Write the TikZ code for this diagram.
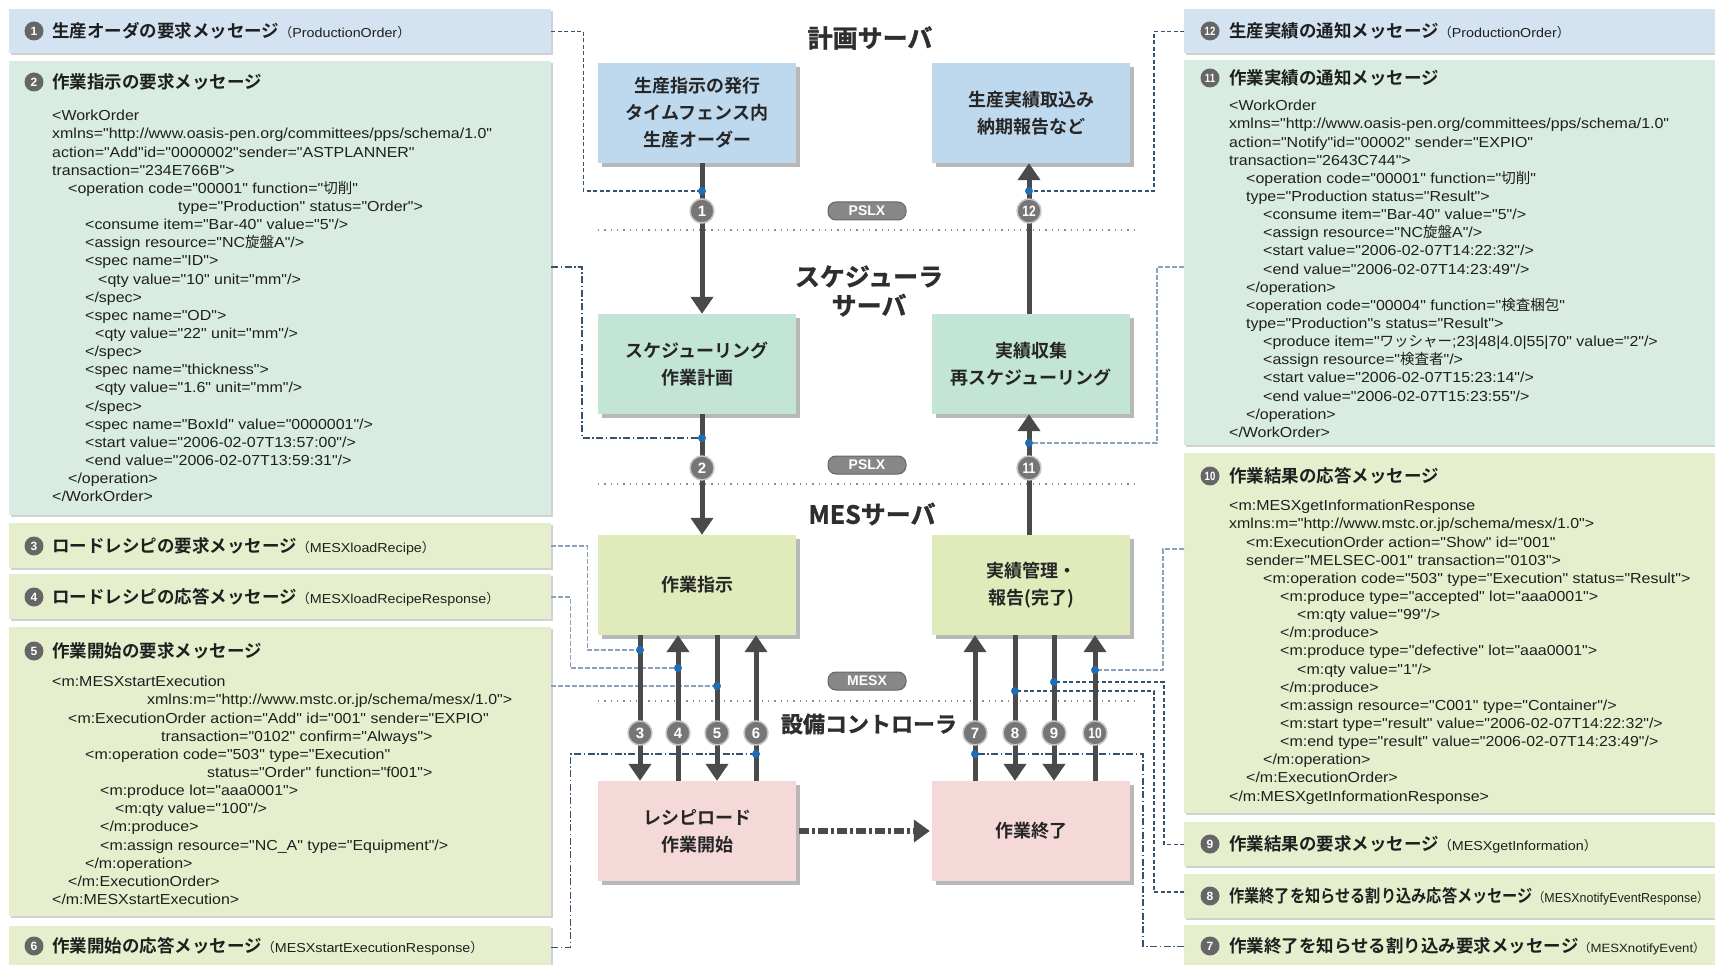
\documentclass[tikz,border=0pt]{standalone}
\usepackage{fontspec}
\usepackage{graphicx}
\setmainfont{Noto Sans CJK JP}[BoldFont={Noto Sans CJK JP Bold}]
\newfontfamily\xmlfam{Liberation Sans}[FakeStretch=1.1]
\newfontfamily\numfam{Liberation Sans}
\newfontfamily\jpfam{Noto Sans CJK JP}
\newfontfamily\heavyfam{Noto Sans CJK JP Bold}[FakeBold=1.3]
\usetikzlibrary{arrows.meta,shadows}

\definecolor{pblue}{HTML}{D3E3F1}
\definecolor{bblue}{HTML}{BED8EE}
\definecolor{pmint}{HTML}{D8ECE2}
\definecolor{bmint}{HTML}{C3E5D6}
\definecolor{pyel}{HTML}{E5EFCD}
\definecolor{byel}{HTML}{DFEBBB}
\definecolor{bpink}{HTML}{F5D9D9}
\definecolor{arrowgray}{HTML}{4A4A4A}
\definecolor{badgegray}{HTML}{767676}
\definecolor{dotblue}{HTML}{1E6DB5}
\definecolor{leaddark}{HTML}{33536F}
\definecolor{leadlight}{HTML}{8CA2BA}

% message name in parentheses after a heading
\newcommand\msgparen[1]{{\mdseries\fontsize{13}{15}\selectfont （{\xmlfam #1}）}}

\tikzset{
  panel/.style={anchor=north west, inner sep=0pt, draw=none,
    drop shadow={shadow xshift=1.5pt, shadow yshift=-1.5pt, fill=black!18, opacity=1}},
  cbox/.style={minimum width=198pt, minimum height=100pt, inner sep=0pt, align=center,
    font=\bfseries\fontsize{18}{27}\selectfont, text=black!85,
    drop shadow={shadow xshift=4pt, shadow yshift=-4pt, fill=black!28, opacity=1}},
  title/.style={inner sep=0pt, align=center, text=black!82,
    font=\heavyfam\fontsize{25}{29}\selectfont},
  head/.style={anchor=west, inner sep=0pt, text=black!88,
    font=\bfseries\fontsize{17.5}{20}\selectfont},
  xml/.style={anchor=north west, inner sep=0pt, align=left, text=black!88,
    font=\xmlfam\fontsize{14.5}{18.15}\selectfont},
  pbadge/.style={circle, fill=black!60, minimum size=19pt, inner sep=0pt, text=white,
    font=\numfam\bfseries\fontsize{12}{12}\selectfont},
  abadge/.style={circle, fill=badgegray, draw=black!22, line width=1.5pt,
    minimum size=24pt, inner sep=0pt, text=white,
    font=\numfam\bfseries\fontsize{15}{15}\selectfont},
  pill/.style={rounded corners=8pt, fill=black!47, draw=black!60, line width=1pt,
    minimum width=78pt, minimum height=18pt, inner sep=0pt, text=white,
    font=\numfam\bfseries\fontsize{14}{14}\selectfont},
  dot/.style={circle, fill=dotblue, minimum size=8pt, inner sep=0pt},
  flow/.style={draw=arrowgray, line width=5pt, -{Triangle[width=22pt,length=17pt]}},
  dasharrow/.style={draw=arrowgray, line width=6pt,
    dash pattern=on 10pt off 3pt on 3pt off 3pt,
    -{Triangle[width=22pt,length=16pt]}, shorten >=2pt, shorten <=3pt},
  leadA/.style={draw=leaddark, line width=1.1pt, dash pattern=on 4pt off 2.5pt},
  leadB/.style={draw=leaddark, line width=1.1pt, dash pattern=on 7pt off 2.5pt on 1.5pt off 2.5pt},
  leadC/.style={draw=leadlight, line width=1.6pt, dash pattern=on 5pt off 2pt},
  sep/.style={draw=black!45, line width=1.3pt, dash pattern=on 1.3pt off 5pt},
}

\begin{document}
\begin{tikzpicture}[x=1pt, y=-1pt]
\fill[white] (0,0) rectangle (1715,965);
\useasboundingbox (0,0) rectangle (1715,965);

% ---------- message panels, left ----------
\node[panel, fill=pblue, minimum width=542pt, minimum height=44pt]  (p1) at (9,9) {};
\node[panel, fill=pmint, minimum width=542pt, minimum height=454pt] (p2) at (9,61) {};
\node[panel, fill=pyel,  minimum width=542pt, minimum height=45pt]  (p3) at (9,523) {};
\node[panel, fill=pyel,  minimum width=542pt, minimum height=45pt]  (p4) at (9,574) {};
\node[panel, fill=pyel,  minimum width=542pt, minimum height=289pt] (p5) at (9,627) {};
\node[panel, fill=pyel,  minimum width=542pt, minimum height=42pt]  (p6) at (9,926) {};

% ---------- message panels, right ----------
\node[panel, fill=pblue, minimum width=536pt, minimum height=44pt]  (p12) at (1184,9) {};
\node[panel, fill=pmint, minimum width=536pt, minimum height=385pt] (p11) at (1184,60) {};
\node[panel, fill=pyel,  minimum width=536pt, minimum height=360pt] (p10) at (1184,453) {};
\node[panel, fill=pyel,  minimum width=536pt, minimum height=44pt]  (p9)  at (1184,822) {};
\node[panel, fill=pyel,  minimum width=536pt, minimum height=44pt]  (p8)  at (1184,874) {};
\node[panel, fill=pyel,  minimum width=536pt, minimum height=42pt]  (p7)  at (1184,925) {};

% ---------- panel headings ----------
\node[pbadge] (q1) at (34,31) {1};
\node[head] (h1) at (52,31) {生産オーダの要求メッセージ\msgparen{ProductionOrder}};
\node[pbadge] (q2) at (34,82) {2};
\node[head] (h2) at (52,82) {作業指示の要求メッセージ};
\node[pbadge] (q3) at (34,546) {3};
\node[head] (h3) at (52,546) {ロードレシピの要求メッセージ\msgparen{MESXloadRecipe}};
\node[pbadge] (q4) at (34,597) {4};
\node[head] (h4) at (52,597) {ロードレシピの応答メッセージ\msgparen{MESXloadRecipeResponse}};
\node[pbadge] (q5) at (34,651) {5};
\node[head] (h5) at (52,651) {作業開始の要求メッセージ};
\node[pbadge] (q6) at (34,946) {6};
\node[head] (h6) at (52,946) {作業開始の応答メッセージ\msgparen{MESXstartExecutionResponse}};

\node[pbadge] (q12) at (1210,31) {\scalebox{0.8}[1]{12}};
\node[head] (h12) at (1229,31) {生産実績の通知メッセージ\msgparen{ProductionOrder}};
\node[pbadge] (q11) at (1210,78) {\scalebox{0.8}[1]{11}};
\node[head] (h11) at (1229,78) {作業実績の通知メッセージ};
\node[pbadge] (q10) at (1210,476) {\scalebox{0.8}[1]{10}};
\node[head] (h10) at (1229,476) {作業結果の応答メッセージ};
\node[pbadge] (q9) at (1210,844) {9};
\node[head] (h9) at (1229,844) {作業結果の要求メッセージ\msgparen{MESXgetInformation}};
\node[pbadge] (q8) at (1210,896) {8};
\node[head] (h8) at (1229,896) {\scalebox{0.87}[1]{作業終了を知らせる割り込み応答メッセージ\msgparen{MESXnotifyEventResponse}}};
\node[pbadge] (q7) at (1210,946) {7};
\node[head] (h7) at (1229,946) {作業終了を知らせる割り込み要求メッセージ{\fontsize{12}{14}\selectfont\mdseries （{\xmlfam MESXnotifyEvent}）}};

% ---------- XML bodies ----------
\node[xml] (x2) at (52,110) {%
<WorkOrder\\
xmlns="http://www.oasis-pen.org/committees/pps/schema/1.0"\\
action="Add"id="0000002"sender="ASTPLANNER"\\
transaction="234E766B">\\
\hspace*{16pt}<operation code="00001" function="{\jpfam 切削}"\\
\hspace*{126pt}type="Production" status="Order">\\
\hspace*{33pt}<consume item="Bar-40" value="5"/>\\
\hspace*{33pt}<assign resource="NC{\jpfam 旋盤}A"/>\\
\hspace*{33pt}<spec name="ID">\\
\hspace*{46pt}<qty value="10" unit="mm"/>\\
\hspace*{33pt}</spec>\\
\hspace*{33pt}<spec name="OD">\\
\hspace*{43pt}<qty value="22" unit="mm"/>\\
\hspace*{33pt}</spec>\\
\hspace*{33pt}<spec name="thickness">\\
\hspace*{43pt}<qty value="1.6" unit="mm"/>\\
\hspace*{33pt}</spec>\\
\hspace*{33pt}<spec name="BoxId" value="0000001"/>\\
\hspace*{33pt}<start value="2006-02-07T13:57:00"/>\\
\hspace*{33pt}<end value="2006-02-07T13:59:31"/>\\
\hspace*{16pt}</operation>\\
</WorkOrder>};

\node[xml] (x5) at (52,676) {%
<m:MESXstartExecution\\
\hspace*{95pt}xmlns:m="http://www.mstc.or.jp/schema/mesx/1.0">\\
\hspace*{16pt}<m:ExecutionOrder action="Add" id="001" sender="EXPIO"\\
\hspace*{109pt}transaction="0102" confirm="Always">\\
\hspace*{33pt}<m:operation code="503" type="Execution"\\
\hspace*{155pt}status="Order" function="f001">\\
\hspace*{48pt}<m:produce lot="aaa0001">\\
\hspace*{63pt}<m:qty value="100"/>\\
\hspace*{48pt}</m:produce>\\
\hspace*{48pt}<m:assign resource="NC\_A" type="Equipment"/>\\
\hspace*{33pt}</m:operation>\\
\hspace*{16pt}</m:ExecutionOrder>\\
</m:MESXstartExecution>};

\node[xml] (x11) at (1229,100) {%
<WorkOrder\\
xmlns="http://www.oasis-pen.org/committees/pps/schema/1.0"\\
action="Notify"id="00002" sender="EXPIO"\\
transaction="2643C744">\\
\hspace*{17pt}<operation code="00001" function="{\jpfam 切削}"\\
\hspace*{17pt}type="Production status="Result">\\
\hspace*{34pt}<consume item="Bar-40" value="5"/>\\
\hspace*{34pt}<assign resource="NC{\jpfam 旋盤}A"/>\\
\hspace*{34pt}<start value="2006-02-07T14:22:32"/>\\
\hspace*{34pt}<end value="2006-02-07T14:23:49"/>\\
\hspace*{17pt}</operation>\\
\hspace*{17pt}<operation code="00004" function="{\jpfam 検査梱包}"\\
\hspace*{17pt}type="Production"s status="Result">\\
\hspace*{34pt}<produce item="{\jpfam ワッシャー};23|48|4.0|55|70" value="2"/>\\
\hspace*{34pt}<assign resource="{\jpfam 検査者}"/>\\
\hspace*{34pt}<start value="2006-02-07T15:23:14"/>\\
\hspace*{34pt}<end value="2006-02-07T15:23:55"/>\\
\hspace*{17pt}</operation>\\
</WorkOrder>};

\node[xml] (x10) at (1229,500) {%
<m:MESXgetInformationResponse\\
xmlns:m="http://www.mstc.or.jp/schema/mesx/1.0">\\
\hspace*{17pt}<m:ExecutionOrder action="Show" id="001"\\
\hspace*{17pt}sender="MELSEC-001" transaction="0103">\\
\hspace*{34pt}<m:operation code="503" type="Execution" status="Result">\\
\hspace*{51pt}<m:produce type="accepted" lot="aaa0001">\\
\hspace*{68pt}<m:qty value="99"/>\\
\hspace*{51pt}</m:produce>\\
\hspace*{51pt}<m:produce type="defective" lot="aaa0001">\\
\hspace*{68pt}<m:qty value="1"/>\\
\hspace*{51pt}</m:produce>\\
\hspace*{51pt}<m:assign resource="C001" type="Container"/>\\
\hspace*{51pt}<m:start type="result" value="2006-02-07T14:22:32"/>\\
\hspace*{51pt}<m:end type="result" value="2006-02-07T14:23:49"/>\\
\hspace*{34pt}</m:operation>\\
\hspace*{17pt}</m:ExecutionOrder>\\
</m:MESXgetInformationResponse>};

% ---------- layer titles and separators ----------
\node[title] (t1) at (870,38) {計画サーバ};
\node[title] (t2) at (869,291) {スケジューラ\\サーバ};
\node[title] (t3) at (872,514) {MESサーバ};
\node[title, font=\heavyfam\fontsize{22}{26}\selectfont] (t4) at (869,724) {設備コントローラ};

\draw[sep] (598,230) -- (1134,230);
\draw[sep] (598,484) -- (1134,484);
\draw[sep] (598,701) -- (1134,701);

\node[pill] (l1) at (867,211) {PSLX};
\node[pill] (l2) at (867,465) {PSLX};
\node[pill] (l3) at (867,681) {MESX};

% ---------- process boxes ----------
\node[cbox, fill=bblue] (b1) at (697,113) {生産指示の発行\\タイムフェンス内\\生産オーダー};
\node[cbox, fill=bblue] (c1) at (1031,113) {生産実績取込み\\納期報告など};
\node[cbox, fill=bmint] (b2) at (697,364) {スケジューリング\\作業計画};
\node[cbox, fill=bmint] (c2) at (1031,364) {実績収集\\再スケジューリング};
\node[cbox, fill=byel]  (b3) at (697,585) {作業指示};
\node[cbox, fill=byel]  (c3) at (1031,585) {実績管理・\\報告(完了)};
\node[cbox, fill=bpink] (b4) at (697,831) {レシピロード\\作業開始};
\node[cbox, fill=bpink] (c4) at (1031,831) {作業終了};

% ---------- badge and junction positions ----------
\coordinate (k1)  at (702,211);  \coordinate (k2)  at (702,468);
\coordinate (k12) at (1029,211); \coordinate (k11) at (1029,468);
\coordinate (k3)  at (640,733);  \coordinate (k4)  at (678,733);
\coordinate (k5)  at (717,733);  \coordinate (k6)  at (756,733);
\coordinate (k7)  at (975,733);  \coordinate (k8)  at (1015,733);
\coordinate (k9)  at (1054,733); \coordinate (k10) at (1095,733);

\coordinate (d1)  at (702,191);  \coordinate (d2)  at (702,438);
\coordinate (d12) at (1029,191); \coordinate (d11) at (1029,443);
\coordinate (d3)  at (640,650);  \coordinate (d4)  at (678,668);
\coordinate (d5)  at (717,686);  \coordinate (d6)  at (756,754);
\coordinate (d7)  at (975,754);  \coordinate (d8)  at (1015,691);
\coordinate (d9)  at (1054,682); \coordinate (d10) at (1095,670);

% ---------- leader lines from panels to the arrows ----------
\coordinate (s2)  at (551,267);
\coordinate (s5)  at (551,686);
\coordinate (s11) at (1184,267);
\coordinate (s8)  at (1184,892);
\coordinate (s10) at (1184,549);

\draw[leadA] (p1.east) -- ++(32,0) |- (d1);
\draw[leadA] (p12.west) -- ++(-30,0) |- (d12);
\draw[leadB] (s2) -- ++(31,0) |- (d2);
\draw[leadC] (s11) -- ++(-27,0) |- (d11);
\draw[leadC] (p3.east) -- ++(36,0) |- (d3);
\draw[leadC] (p4.east) -- ++(19,0) |- (d4);
\draw[leadC] (s5) -- (d5);
\draw[leadB] (p6.east) -- ++(19,0) |- (d6);
\draw[leadB] (p7.west) -- ++(-41,0) |- (d7);
\draw[leadA] (s8) -- ++(-30,0) |- (d8);
\draw[leadA] (p9.west) -- ++(-20,0) |- (d9);
\draw[leadC] (s10) -- ++(-21,0) |- (d10);

% ---------- message flow arrows ----------
\draw[flow] (b1.south -| k1) -- (b2.north -| k1);
\draw[flow] (b2.south -| k2) -- (b3.north -| k2);
\draw[flow] (c2.north -| k12) -- (c1.south -| k12);
\draw[flow] (c3.north -| k11) -- (c2.south -| k11);
\draw[flow] (b3.south -| k3) -- (b4.north -| k3);
\draw[flow] (b4.north -| k4) -- (b3.south -| k4);
\draw[flow] (b3.south -| k5) -- (b4.north -| k5);
\draw[flow] (b4.north -| k6) -- (b3.south -| k6);
\draw[flow] (c4.north -| k7) -- (c3.south -| k7);
\draw[flow] (c3.south -| k8) -- (c4.north -| k8);
\draw[flow] (c3.south -| k9) -- (c4.north -| k9);
\draw[flow] (c4.north -| k10) -- (c3.south -| k10);

\draw[dasharrow] (b4.east) -- (c4.west);

% ---------- junction dots and number badges ----------
\foreach \d in {d1,d2,d3,d4,d5,d6,d7,d8,d9,d10,d11,d12}
  \node[dot] (n\d) at (\d) {};

\node[abadge] (a1) at (k1) {1};
\node[abadge] (a2) at (k2) {2};
\node[abadge] (a3) at (k3) {3};
\node[abadge] (a4) at (k4) {4};
\node[abadge] (a5) at (k5) {5};
\node[abadge] (a6) at (k6) {6};
\node[abadge] (a7) at (k7) {7};
\node[abadge] (a8) at (k8) {8};
\node[abadge] (a9) at (k9) {9};
\node[abadge] (a10) at (k10) {\scalebox{0.8}[1]{10}};
\node[abadge] (a11) at (k11) {\scalebox{0.8}[1]{11}};
\node[abadge] (a12) at (k12) {\scalebox{0.8}[1]{12}};
\end{tikzpicture}
\end{document}
